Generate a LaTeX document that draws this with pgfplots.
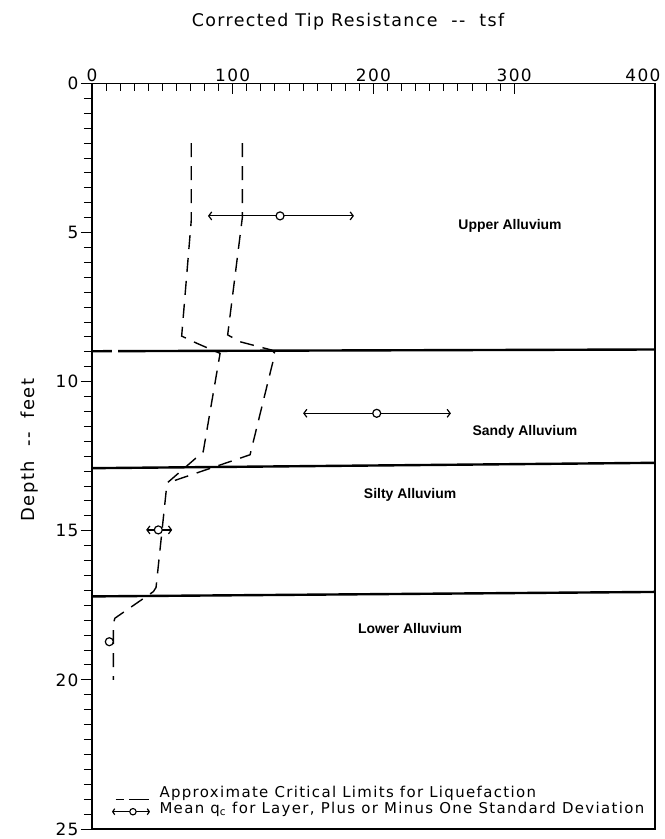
\documentclass[border=0pt]{standalone}
\usepackage{fontspec}
\setmainfont{Liberation Sans}
\newfontfamily\lsp[LetterSpace=8]{DejaVu Sans}
\newfontfamily\lspl[LetterSpace=9]{DejaVu Sans}
\usepackage{pgfplots}
\pgfplotsset{compat=1.18}
\usetikzlibrary{arrows.meta}
\begin{document}
\begin{tikzpicture}[x=1bp,y=1bp]
\begin{axis}[
  at={(0,0)}, anchor=south west, scale only axis,
  width=563bp, height=745.5bp,
  xmin=0, xmax=400, ymin=0, ymax=25, y dir=reverse,
  axis line style={line width=1.2bp},
  xtick={0,100,200,300}, minor x tick num=9,
  extra x ticks={400},
  extra x tick style={xticklabel style={xshift=-12bp}},
  ytick={0,5,10,15,20,25}, minor y tick num=9,
  xtick pos=upper, ytick pos=left, xticklabel pos=upper,
  tick align=inside,
  major tick length=11bp, minor tick length=8bp,
  every tick/.style={black, line width=1bp},
  every major y tick/.append style={xshift=-11bp},
  every minor y tick/.append style={xshift=-8bp},
  /pgf/number format/assume math mode=true,
  ticklabel style={font=\lsp\fontsize{17}{17}\selectfont},
  yticklabel style={xshift=-10bp},
  xticklabel style={yshift=-2bp},
  clip=false,
]
% critical limits (dashed)
\addplot[black, line width=1.4bp, dash pattern=on 14bp off 9bp] coordinates {
 (70.5,2) (70.5,4.6) (63.7,8.47) (74.4,8.71) (91,9.05) (79,12.35) (53.3,13.4)
 (45.5,16.9) (43.6,17.04) (16.3,17.93) (15.2,18.1) (15.2,20)};
\addplot[black, line width=1.4bp, dash pattern=on 14bp off 9bp] coordinates {
 (106.8,2) (106.8,4.5) (96.4,8.43) (105.2,8.66) (127.7,8.94) (130,9.05) (112.3,12.45) (53.3,13.4)};
% layer boundaries
\addplot[black, line width=2.4bp] coordinates {(0,8.98) (14.2,8.975)};
\addplot[black, line width=2.4bp] coordinates {(18.5,8.975) (400,8.92)};
\addplot[black, line width=2.4bp] coordinates {(0,12.9) (400,12.72)};
\addplot[black, line width=2.4bp] coordinates {(0,17.2) (400,17.05)};
% mean +- one standard deviation
\addplot[black, line width=1.2bp, {Straight Barb[length=3bp,width=8bp]}-{Straight Barb[length=3bp,width=8bp]}] coordinates {(82.4,4.44) (186.1,4.44)};
\addplot[black, line width=1.2bp, {Straight Barb[length=3bp,width=8bp]}-{Straight Barb[length=3bp,width=8bp]}] coordinates {(150,11.06) (255,11.06)};
\addplot[black, line width=1.2bp, {Straight Barb[length=3bp,width=8bp]}-{Straight Barb[length=3bp,width=8bp]}] coordinates {(38.5,14.97) (57,14.97)};
\addplot[only marks, mark=*, mark size=4bp, mark options={fill=white, draw=black, line width=1.2bp}] coordinates {
 (133.6,4.44) (202.3,11.06) (47.1,14.97) (12.3,18.72)};
% legend symbols
\addplot[black, line width=1.2bp] coordinates {(16.8,24.0) (22.4,24.0)};
\addplot[black, line width=1.2bp] coordinates {(26.3,24.0) (40.5,24.0)};
\addplot[black, line width=1.2bp, {Straight Barb[length=2bp,width=6bp]}-{Straight Barb[length=2bp,width=6bp]}] coordinates {(14.2,24.42) (41.2,24.42)};
\addplot[only marks, mark=*, mark size=3.2bp, mark options={fill=white, draw=black, line width=1.1bp}] coordinates {(29.1,24.42)};
% layer names
\node[font=\bfseries\fontsize{14}{16}\selectfont] at (axis cs:297,4.78) {Upper Alluvium};
\node[font=\bfseries\fontsize{14}{16}\selectfont] at (axis cs:307.6,11.69) {Sandy Alluvium};
\node[font=\bfseries\fontsize{14}{16}\selectfont] at (axis cs:226,13.8) {Silty Alluvium};
\node[font=\bfseries\fontsize{14}{16}\selectfont] at (axis cs:226,18.26) {Lower Alluvium};
\end{axis}
\node[font=\lsp\fontsize{17.5}{18}\selectfont] at (256,807) {Corrected Tip Resistance \ --\ \ tsf};
\node[font=\lsp\fontsize{18}{18}\selectfont, rotate=90] at (-62,379) {Depth \ --\ \ feet};
\node[font=\lspl\fontsize{15}{15}\selectfont, anchor=west] at (64,35.5) {Approximate Critical Limits for Liquefaction};
\node[font=\lspl\fontsize{15}{15}\selectfont, anchor=west] at (64,19.5) {Mean q\textsubscript{c} for Layer, Plus or Minus One Standard Deviation};
\pgfresetboundingbox
\path (-92,-10) rectangle (573,829);
\end{tikzpicture}
\end{document}
